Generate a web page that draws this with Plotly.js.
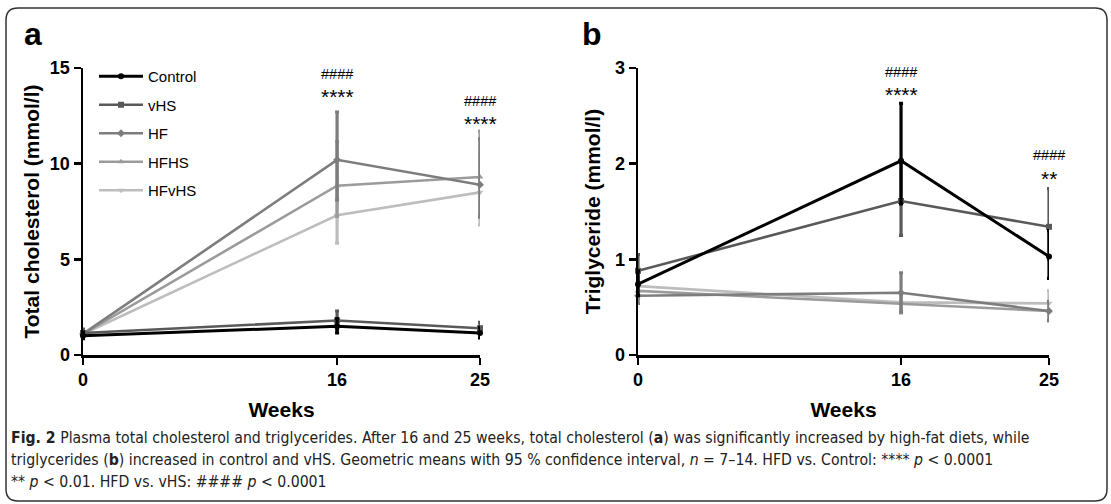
<!DOCTYPE html>
<html><head><meta charset="utf-8">
<script src="https://cdn.plot.ly/plotly-3.0.1.min.js"></script>
<style>html,body{margin:0;padding:0;background:#fff}#chart{width:1111px;height:504px}</style>
</head><body><div id="chart"></div>
<script>
const weeks = [0, 16, 25];
const groups = ["Control", "vHS", "HF", "HFHS", "HFvHS"];

// Panel a: total cholesterol (mmol/l), geometric means with 95% CI
const cholControl = [1.0, 1.5, 1.15];
const cholControlUp = [0.2, 0.4, 0.3];
const cholControlDn = [0.15, 0.35, 0.25];
const cholVHS = [1.15, 1.8, 1.4];
const cholVHSUp = [0.2, 0.5, 0.3];
const cholVHSDn = [0.15, 0.5, 0.25];
const cholHF = [1.1, 10.2, 8.9];
const cholHFUp = [0.2, 2.5, 2.4];
const cholHFDn = [0.15, 2.1, 1.7];
const cholHFHS = [1.1, 8.85, 9.3];
const cholHFHSUp = [0.2, 2.3, 2.4];
const cholHFHSDn = [0.15, 1.6, 2.0];
const cholHFvHS = [1.1, 7.3, 8.5];
const cholHFvHSUp = [0.2, 1.6, 2.0];
const cholHFvHSDn = [0.15, 1.45, 1.7];

// Panel b: triglyceride (mmol/l)
const tgControl = [0.74, 2.03, 1.03];
const tgControlUp = [0.14, 0.6, 0.27];
const tgControlDn = [0.12, 0.45, 0.23];
const tgVHS = [0.88, 1.61, 1.34];
const tgVHSUp = [0.17, 0.4, 0.4];
const tgVHSDn = [0.15, 0.36, 0.34];
const tgHF = [0.62, 0.65, 0.46];
const tgHFUp = [0.1, 0.21, 0.1];
const tgHFDn = [0.08, 0.2, 0.1];
const tgHFHS = [0.67, 0.54, 0.46];
const tgHFHSUp = [0.1, 0.11, 0.09];
const tgHFHSDn = [0.09, 0.1, 0.1];
const tgHFvHS = [0.72, 0.55, 0.54];
const tgHFvHSUp = [0.1, 0.1, 0.13];
const tgHFvHSDn = [0.09, 0.1, 0.1];

const xTickVals = [0, 16, 25];
const cholTicks = [0, 5, 10, 15];
const tgTicks = [0, 1, 2, 3];

const colors = ["#000000", "#595959", "#7d7d7d", "#9b9b9b", "#bdbdbd"];
const symbols = ["circle", "square", "diamond", "triangle-up", "triangle-down"];

const cholSets = [
  [cholControl, cholControlUp, cholControlDn],
  [cholVHS, cholVHSUp, cholVHSDn],
  [cholHF, cholHFUp, cholHFDn],
  [cholHFHS, cholHFHSUp, cholHFHSDn],
  [cholHFvHS, cholHFvHSUp, cholHFvHSDn]
];
const tgSets = [
  [tgControl, tgControlUp, tgControlDn],
  [tgVHS, tgVHSUp, tgVHSDn],
  [tgHF, tgHFUp, tgHFDn],
  [tgHFHS, tgHFHSUp, tgHFHSDn],
  [tgHFvHS, tgHFvHSUp, tgHFvHSDn]
];

function mk(set, i, xa, ya, legend) {
  return {
    type: "scatter", mode: "lines+markers",
    x: weeks, y: set[0], xaxis: xa, yaxis: ya,
    name: groups[i], legendgroup: groups[i], legendrank: i + 1,
    showlegend: legend, cliponaxis: false,
    line: {color: colors[i], width: i === 0 ? 3 : 2.6},
    marker: {color: colors[i], symbol: symbols[i], size: 6},
    error_y: {type: "data", symmetric: false, array: set[1], arrayminus: set[2],
      color: colors[i], thickness: 3.2, width: 2}
  };
}

const traces = [];
for (let i = 4; i >= 0; i--) traces.push(mk(cholSets[i], i, "x", "y", true));
for (let i = 4; i >= 0; i--) traces.push(mk(tgSets[i], i, "x2", "y2", false));

const W = 1111, H = 504;
const px = v => v / W, py = v => 1 - v / H;
const FAM = "Liberation Sans, Arial, sans-serif";
const tickFont = {family: FAM, size: 18, color: "#000", weight: "bold"};
const axTitleFont = {family: FAM, size: 21, color: "#000", weight: "bold"};

function xaxis(d0, d1, anchor) {
  return {domain: [px(d0), px(d1)], range: [0, 25], anchor: anchor,
    tickvals: xTickVals, ticks: "outside", ticklen: 7, tickwidth: 2.5, tickcolor: "#000",
    showline: true, linewidth: 2.5, linecolor: "#000", showgrid: false, zeroline: false,
    tickfont: tickFont, fixedrange: true,
    title: {text: "<b>Weeks</b>", font: axTitleFont, standoff: 13}};
}
function yaxis(rng, ticks, title, anchor, standoff) {
  return {domain: [py(355), py(68)], range: rng, anchor: anchor,
    tickvals: ticks, ticks: "outside", ticklen: 7, tickwidth: 2.5, tickcolor: "#000",
    showline: true, linewidth: 2.5, linecolor: "#000", showgrid: false, zeroline: false,
    tickfont: tickFont, fixedrange: true,
    title: {text: "<b>" + title + "</b>", font: axTitleFont, standoff: standoff}};
}

const r = 12;
const L = 6, R = 1107, T = 8, B = 501;
const framePath = `M ${px(L + r)} ${py(T)} L ${px(R - r)} ${py(T)} Q ${px(R)} ${py(T)} ${px(R)} ${py(T + r)} ` +
  `L ${px(R)} ${py(B - r)} Q ${px(R)} ${py(B)} ${px(R - r)} ${py(B)} L ${px(L + r)} ${py(B)} ` +
  `Q ${px(L)} ${py(B)} ${px(L)} ${py(B - r)} L ${px(L)} ${py(T + r)} Q ${px(L)} ${py(T)} ${px(L + r)} ${py(T)} Z`;

const capFont = {family: "Liberation Sans Narrow, Arial Narrow, DejaVu Sans Condensed, sans-serif", size: 15.7, color: "#222"};
const hashFont = {family: FAM, size: 14.5, color: "#000"};
const starFont = {family: FAM, size: 21, color: "#000"};

function note(text, x, xref, yPix, font) {
  return {text: text, x: x, y: py(yPix), xref: xref, yref: "paper", xanchor: "center", yanchor: "middle",
    showarrow: false, font: font};
}

const ann = [
  {text: "<b>a</b>", x: px(22), y: py(34), xref: "paper", yref: "paper", xanchor: "left", yanchor: "middle", showarrow: false,
   font: {family: FAM, size: 32, color: "#000"}},
  {text: "<b>b</b>", x: px(580), y: py(34), xref: "paper", yref: "paper", xanchor: "left", yanchor: "middle", showarrow: false,
   font: {family: FAM, size: 32, color: "#000"}},
  note("####", 16, "x", 74, hashFont),
  note("****", 16, "x", 96, starFont),
  note("####", 25, "x", 101, hashFont),
  note("****", 25, "x", 123, starFont),
  note("####", 16, "x2", 72, hashFont),
  note("****", 16, "x2", 94, starFont),
  note("####", 25, "x2", 155, hashFont),
  note("**", 25, "x2", 178, starFont),
  {text: "<b>Fig. 2</b> Plasma total cholesterol and triglycerides. After 16 and 25 weeks, total cholesterol (<b>a</b>) was significantly increased by high-fat diets, while",
   x: px(9), y: py(437), xref: "paper", yref: "paper", xanchor: "left", yanchor: "middle", showarrow: false, font: capFont},
  {text: "triglycerides (<b>b</b>) increased in control and vHS. Geometric means with 95 % confidence interval, <i>n</i> = 7–14. HFD vs. Control: **** <i>p</i> < 0.0001",
   x: px(9), y: py(459), xref: "paper", yref: "paper", xanchor: "left", yanchor: "middle", showarrow: false, font: capFont},
  {text: "** <i>p</i> < 0.01. HFD vs. vHS: #### <i>p</i> < 0.0001",
   x: px(9), y: py(481), xref: "paper", yref: "paper", xanchor: "left", yanchor: "middle", showarrow: false, font: capFont}
];

const layout = {
  width: W, height: H, margin: {l: 0, r: 0, t: 0, b: 0},
  paper_bgcolor: "#fff", plot_bgcolor: "rgba(0,0,0,0)",
  font: {family: FAM, color: "#000"},
  xaxis: xaxis(83, 480, "y"),
  yaxis: yaxis([0, 15], cholTicks, "Total cholesterol (mmol/l)", "x", 5),
  xaxis2: xaxis(638, 1049, "y2"),
  yaxis2: yaxis([0, 3], tgTicks, "Triglyceride (mmol/l)", "x2", 9),
  showlegend: true,
  legend: {x: px(94), y: py(60), xanchor: "left", yanchor: "top", bgcolor: "rgba(0,0,0,0)",
    traceorder: "grouped", tracegroupgap: 6, itemwidth: 44,
    font: {family: FAM, size: 15, color: "#000"}},
  shapes: [{type: "path", xref: "paper", yref: "paper", path: framePath,
    line: {color: "#333", width: 1.5}, fillcolor: "rgba(0,0,0,0)", layer: "below"}],
  annotations: ann
};

Plotly.newPlot("chart", traces, layout, {staticPlot: true, displayModeBar: false});
</script></body></html>
